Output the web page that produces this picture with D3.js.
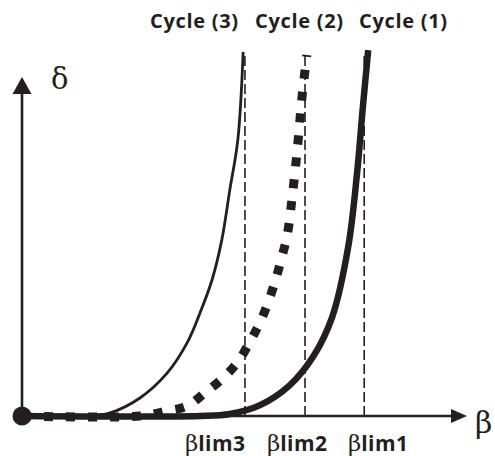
<!DOCTYPE html>
<html><head><meta charset="utf-8">
<script src="https://cdn.jsdelivr.net/npm/d3@7"></script>
<style>html,body{margin:0;padding:0;background:#fff;}</style>
</head><body>
<svg id="chart" width="495" height="456"></svg>
<script>
// ---- data (schematic units: beta 0..10, delta 0..10) ----
const cycleNames = ["Cycle (3)", "Cycle (2)", "Cycle (1)"];
const limitNames = ["lim3", "lim2", "lim1"];
const betaLimits = [5.01, 6.36, 7.69];
const deltaTop = 10.7;

const cycle3Beta  = [0, 1.53, 1.98, 2.65, 3.26, 3.71, 4.00, 4.27, 4.49, 4.67, 4.85, 4.97];
const cycle3Delta = [0, 0,    0.09, 0.53, 1.26, 2.15, 3.03, 4.00, 5.18, 6.65, 8.12, 10.71];

const cycle2Beta  = [0, 2.65, 3.26, 3.71, 4.11, 4.52, 4.85, 5.12, 5.35, 5.55, 5.71, 5.84, 5.96, 6.09, 6.20, 6.29, 6.40];
const cycle2Delta = [0, 0,    0.15, 0.29, 0.68, 1.12, 1.59, 2.18, 2.76, 3.41, 4.06, 4.68, 5.32, 6.65, 8.03, 9.35, 10.62];

const cycle1Beta  = [0, 4.00, 4.67, 5.35, 6.02, 6.54, 6.97, 7.33, 7.53, 7.66, 7.78];
const cycle1Delta = [0, 0,    0.06, 0.32, 0.91, 1.74, 2.91, 4.97, 7.15, 9.09, 10.76];

// ---- layout ----
const svg = d3.select("#chart");
const x = d3.scaleLinear().domain([0, 10]).range([22, 467]);
const y = d3.scaleLinear().domain([0, 10]).range([416, 76]);

const zip = (a, b) => a.map((v, i) => [v, b[i]]);
const line = d3.line().x(d => x(d[0])).y(d => y(d[1])).curve(d3.curveCatmullRom.alpha(0.5));

const ink = "#231f20";

// dashed limit lines
svg.selectAll("line.lim").data(betaLimits).enter().append("line")
  .attr("class", "lim")
  .attr("x1", d => x(d)).attr("x2", d => x(d))
  .attr("y1", y(0)).attr("y2", y(deltaTop))
  .attr("stroke", ink).attr("stroke-width", 1.6)
  .attr("stroke-dasharray", "10,4");

// axes
svg.append("line").attr("x1", x(0)).attr("x2", x(10) - 12).attr("y1", y(0)).attr("y2", y(0))
  .attr("stroke", ink).attr("stroke-width", 2.6);
svg.append("path").attr("d", `M${x(10)},${y(0)} L${x(10)-16},${y(0)-7} L${x(10)-16},${y(0)+7} Z`).attr("fill", ink);
svg.append("line").attr("x1", x(0)).attr("x2", x(0)).attr("y1", y(0)).attr("y2", y(10) + 14)
  .attr("stroke", ink).attr("stroke-width", 2.6);
svg.append("path").attr("d", `M${x(0)},${y(10)+1} L${x(0)-9.5},${y(10)+18} L${x(0)+9.5},${y(10)+18} Z`).attr("fill", ink);

// curves
svg.append("path").datum(zip(cycle3Beta, cycle3Delta)).attr("d", line)
  .attr("fill", "none").attr("stroke", ink).attr("stroke-width", 2.8);
svg.append("path").datum(zip(cycle2Beta, cycle2Delta)).attr("d", line)
  .attr("fill", "none").attr("stroke", ink).attr("stroke-width", 9)
  .attr("stroke-dasharray", "9,13");
svg.append("path").datum(zip(cycle1Beta, cycle1Delta)).attr("d", line)
  .attr("fill", "none").attr("stroke", ink).attr("stroke-width", 6.5);

// origin dot
svg.append("circle").attr("cx", x(0)).attr("cy", y(0)).attr("r", 9.5).attr("fill", ink);

// axis labels
svg.append("text").attr("x", 51).attr("y", 89).text("δ")
  .attr("font-family", "DejaVu Serif").attr("font-size", 29).attr("fill", ink);
svg.append("text").attr("x", 475).attr("y", 433).text("β")
  .attr("font-family", "DejaVu Serif").attr("font-size", 30).attr("fill", ink);

// cycle labels
const cycleLabelX = [150, 255, 359];
svg.selectAll("text.cyc").data(cycleNames).enter().append("text")
  .attr("class", "cyc")
  .attr("x", (d, i) => cycleLabelX[i]).attr("y", 28)
  .attr("font-family", "Open Sans").attr("font-weight", "bold").attr("font-size", 20)
  .attr("letter-spacing", 0.7)
  .attr("fill", ink).text(d => d);

// limit labels
const limLabelX = [185, 267, 348];
const lt = svg.selectAll("text.limlab").data(limitNames).enter().append("text")
  .attr("class", "limlab")
  .attr("x", (d, i) => limLabelX[i]).attr("y", 451).attr("fill", ink);
lt.append("tspan").attr("font-family", "DejaVu Serif").attr("font-size", 23).text("β");
lt.append("tspan").attr("font-family", "Open Sans").attr("font-weight", "bold").attr("font-size", 21)
  .attr("letter-spacing", 0.4).text(d => d);
</script>
</body></html>
